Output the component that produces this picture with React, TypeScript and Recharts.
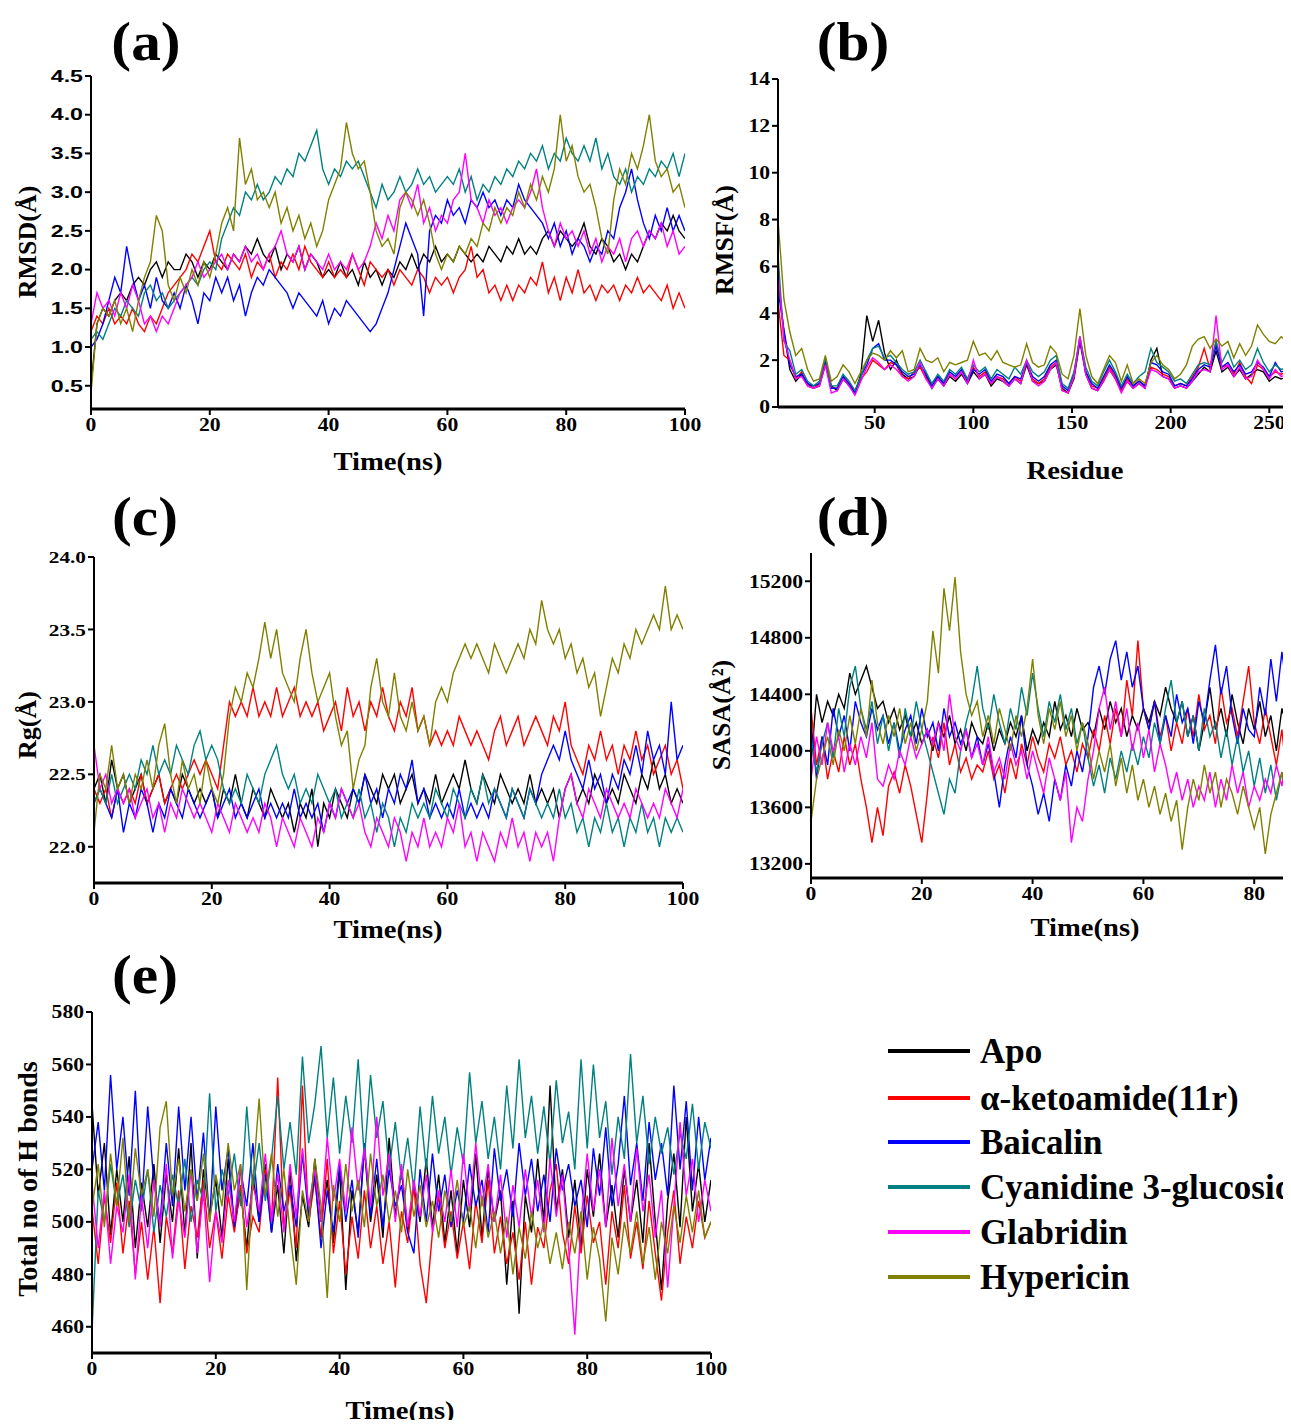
import { LineChart, Line, XAxis, YAxis } from 'recharts';

// series order = draw order (olive ends up on top, like the original)
const SERIES = [
  { key: 'apo', name: 'Apo', color: '#000000' },
  { key: 'keto', name: 'α-ketoamide(11r)', color: '#FF0000' },
  { key: 'baic', name: 'Baicalin', color: '#0000FF' },
  { key: 'cyan', name: 'Cyanidine 3-glucoside', color: '#008080' },
  { key: 'glab', name: 'Glabridin', color: '#FF00FF' },
  { key: 'hyp', name: 'Hypericin', color: '#808000' },
];

const TIME = Array.from({ length: 101 }, (_, i) => i);
const TIME_SASA = Array.from({ length: 88 }, (_, i) => i);

const RESIDUE = [
  1, 4, 7, 10, 13, 16, 19, 22, 25, 28, 31, 34, 37, 40, 43, 46, 49, 52, 55, 58,
  61, 64, 67, 70, 73, 76, 79, 82, 85, 88, 91, 94, 97, 100, 103, 106, 109, 112, 115, 118,
  121, 124, 127, 130, 133, 136, 139, 142, 145, 148, 151, 154, 157, 160, 163, 166, 169, 172, 175, 178,
  181, 184, 187, 190, 193, 196, 199, 202, 205, 208, 211, 214, 217, 220, 223, 226, 229, 232, 235, 238,
  241, 244, 247, 250, 253, 256, 259, 262,
];

// (a) RMSD, Å
const RMSD_APO = [
  0.5, 1.3, 1.5, 1.4, 1.6, 1.7, 1.6, 1.8, 1.9, 1.8, 2.0, 2.1, 1.9, 2.1, 2.0, 2.0, 2.2, 2.1, 1.9, 2.1,
  2.0, 2.2, 2.1, 2.0, 2.2, 2.1, 2.3, 2.2, 2.4, 2.2, 2.1, 2.3, 2.0, 2.2, 2.1, 2.3, 2.0, 2.2, 2.1, 1.9,
  2.0, 1.9, 2.1, 1.9, 2.0, 1.8, 2.1, 1.9, 2.0, 1.8, 2.0, 1.9, 2.1, 2.0, 2.2, 2.0, 2.2, 2.1, 2.3, 2.1,
  2.2, 2.1, 2.3, 2.2, 2.1, 2.2, 2.1, 2.3, 2.2, 2.1, 2.3, 2.2, 2.4, 2.2, 2.3, 2.2, 2.4, 2.5, 2.3, 2.5,
  2.4, 2.3, 2.4, 2.6, 2.3, 2.2, 2.4, 2.3, 2.1, 2.2, 2.0, 2.2, 2.1, 2.3, 2.5, 2.4, 2.6, 2.5, 2.7, 2.5,
  2.4,
];
const RMSD_KETO = [
  1.2, 1.4, 1.3, 1.5, 1.3, 1.4, 1.3, 1.5, 1.3, 1.2, 1.4, 1.3, 1.5, 1.7, 1.8, 1.9, 2.0, 2.2, 2.1, 2.3,
  2.5, 2.1, 2.0, 2.2, 2.1, 2.0, 2.2, 1.9, 2.1, 2.0, 2.2, 1.9, 2.1, 2.0, 2.2, 2.0, 2.3, 2.1, 2.0, 1.9,
  2.1, 1.9, 2.0, 1.9, 2.2, 2.0, 1.8, 2.1, 2.0, 1.9, 2.0, 1.8, 2.0, 1.9, 1.8, 2.0, 1.9, 1.7, 1.9, 1.8,
  1.9, 1.7, 1.9, 2.0, 2.3, 1.9, 2.0, 1.7, 1.8, 1.6, 1.8, 1.6, 1.8, 1.7, 1.9, 1.8, 2.1, 1.7, 1.9, 1.6,
  1.9, 1.7, 2.0, 1.7, 1.8, 1.6, 1.8, 1.7, 1.8, 1.6, 1.8, 1.7, 1.9, 1.7, 1.8, 1.7, 1.6, 1.8, 1.5, 1.7,
  1.5,
];
const RMSD_BAIC = [
  1.0, 1.1, 1.3, 1.6, 1.9, 1.7, 2.3, 1.9, 1.6, 1.8, 1.5, 1.9, 1.6, 1.5, 1.7, 1.5, 1.8, 1.6, 1.3, 1.7,
  1.6, 1.9, 1.7, 1.9, 1.6, 1.8, 1.4, 1.7, 1.9, 1.8, 2.0, 1.9, 1.8, 1.7, 1.5, 1.7, 1.6, 1.5, 1.4, 1.6,
  1.3, 1.5, 1.4, 1.6, 1.5, 1.4, 1.3, 1.2, 1.3, 1.5, 1.7, 2.0, 2.3, 2.6, 2.4, 2.2, 1.4, 2.5, 2.7, 2.6,
  2.9, 2.7, 2.8, 2.6, 2.9, 2.8, 3.0, 2.8, 2.9, 2.7, 2.9, 2.8, 3.1, 2.9, 2.8, 2.7, 2.6, 2.4, 2.6, 2.3,
  2.5, 2.2, 2.4, 2.3, 2.1, 2.3, 2.2, 2.5, 2.4, 2.8, 3.0, 3.3, 2.9, 2.6, 2.4, 2.7, 2.5, 2.8, 2.5, 2.7,
  2.5,
];
const RMSD_CYAN = [
  1.1, 1.2, 1.1, 1.3, 1.5, 1.4, 1.6, 1.5, 1.4, 1.7, 1.8, 1.6, 1.7, 1.5, 1.6, 1.7, 1.8, 1.9, 1.8, 2.0,
  2.1, 2.0, 2.4, 2.6, 2.8, 2.7, 3.0, 2.9, 3.1, 2.9, 3.0, 3.2, 3.1, 3.3, 3.2, 3.5, 3.4, 3.6, 3.8, 3.3,
  3.1, 3.3, 3.2, 3.4, 3.3, 3.4, 3.2, 3.0, 2.8, 3.1, 2.9, 3.0, 3.2, 3.0, 3.1, 3.3, 3.1, 3.2, 3.0, 3.1,
  3.2, 3.1, 3.3, 3.0, 3.2, 2.9, 3.1, 3.0, 3.2, 3.1, 3.3, 3.2, 3.4, 3.3, 3.5, 3.4, 3.6, 3.3, 3.5, 3.4,
  3.7, 3.5, 3.4, 3.6, 3.4, 3.7, 3.3, 3.5, 3.2, 3.1, 3.3, 3.0, 3.2, 3.1, 3.3, 3.2, 3.4, 3.3, 3.5, 3.2,
  3.5,
];
const RMSD_GLAB = [
  1.3, 1.7, 1.5, 1.6, 1.4, 1.7, 1.5, 1.8, 1.6, 1.3, 1.4, 1.2, 1.4, 1.3, 1.5, 1.7, 1.8, 1.9, 2.1, 1.9,
  2.0, 2.1, 2.2, 2.0, 2.2, 2.1, 2.3, 2.1, 2.2, 2.0, 2.2, 2.3, 2.5, 2.2, 2.1, 2.3, 2.0, 2.2, 2.1, 2.0,
  2.2, 2.0, 2.1, 2.0, 2.2, 2.0, 2.1, 2.3, 2.6, 2.4, 2.7, 2.5, 2.9, 3.0, 2.8, 3.1, 2.6, 2.8, 2.5, 2.7,
  2.6, 2.9, 3.0, 3.5, 2.9, 2.8, 2.6, 2.9, 2.7, 2.8, 2.6, 2.8, 2.9, 2.8, 3.0, 3.3, 2.8, 2.5, 2.3, 2.6,
  2.4, 2.5, 2.3, 2.5, 2.2, 2.4, 2.1, 2.3, 2.2, 2.4, 2.1, 2.4, 2.5, 2.3, 2.5, 2.4, 2.6, 2.3, 2.5, 2.2,
  2.3,
];
const RMSD_HYP = [
  0.4, 1.3, 1.5, 1.4, 1.6, 1.3, 1.5, 1.2, 1.6, 1.9, 2.1, 2.7, 2.5, 1.8, 1.6, 1.9, 1.7, 2.0, 1.8, 2.1,
  1.9, 2.2, 2.6, 2.8, 2.5, 3.7, 3.1, 3.3, 2.9, 3.0, 2.8, 3.0, 2.6, 2.8, 2.5, 2.7, 2.4, 2.6, 2.3, 2.5,
  2.9, 3.1, 3.3, 3.9, 3.5, 3.3, 3.4, 3.0, 2.5, 2.3, 2.4, 2.2, 2.8, 3.0, 2.9, 2.7, 2.9, 2.6, 2.2, 2.0,
  2.2, 2.1, 2.3, 2.2, 2.4, 2.3, 2.6, 2.5, 2.8, 2.6, 2.8, 2.7, 3.0, 2.8, 3.1, 2.9, 3.2, 3.0, 3.3, 4.0,
  3.4, 3.6, 3.2, 3.0, 3.1, 2.8, 2.4, 2.2, 2.9, 3.3, 3.1, 3.5, 3.3, 3.6, 4.0, 3.4, 3.2, 3.3, 3.0, 3.1,
  2.8,
];

// (b) RMSF, Å
const RMSF_APO = [
  5.5, 3.2, 1.6, 1.1, 1.4, 1.0, 0.8, 0.9, 1.8, 0.9, 0.7, 1.2, 0.9, 0.6, 1.4, 3.9, 2.8, 3.7, 2.3, 1.6,
  2.0, 1.4, 1.2, 1.3, 1.8, 1.3, 0.8, 1.2, 0.9, 1.3, 1.1, 1.4, 1.0, 1.5, 1.2, 1.4, 0.9, 1.2, 1.1, 0.9,
  1.2, 1.0, 1.8, 1.1, 1.0, 1.1, 1.6, 1.8, 0.8, 0.6, 1.2, 2.8, 1.4, 0.8, 0.7, 1.1, 1.6, 1.2, 0.7, 1.1,
  0.8, 1.0, 0.8, 2.0, 2.5, 1.3, 1.2, 0.8, 0.9, 0.8, 1.1, 1.4, 1.7, 1.5, 2.4, 1.5, 1.7, 1.3, 1.6, 1.2,
  1.4, 1.6, 1.5, 1.1, 1.3, 1.2, 1.3, 1.1,
];
const RMSF_KETO = [
  4.5, 2.2, 2.0, 1.2, 1.5, 0.9, 0.8, 1.0, 1.9, 0.8, 0.8, 1.3, 1.0, 0.7, 1.2, 1.5, 2.0, 1.8, 1.6, 1.9,
  1.8, 1.3, 1.2, 1.5, 1.7, 1.2, 1.0, 1.3, 1.0, 1.4, 1.2, 1.5, 1.1, 1.7, 1.3, 1.5, 1.0, 1.3, 1.2, 1.0,
  1.3, 1.1, 1.9, 1.2, 1.0, 1.2, 1.7, 1.9, 0.7, 0.6, 1.3, 3.0, 1.5, 0.9, 0.8, 1.2, 1.7, 1.3, 0.7, 1.2,
  0.9, 1.1, 0.9, 1.7, 1.6, 1.4, 1.3, 0.9, 1.0, 0.9, 1.3, 1.7, 2.5, 1.6, 2.8, 1.7, 1.8, 1.4, 1.9, 1.3,
  1.0, 1.8, 1.6, 1.3, 1.5, 1.4, 1.5, 1.3,
];
const RMSF_BAIC = [
  5.0, 3.3, 1.8, 1.3, 1.4, 1.0, 0.9, 1.0, 2.0, 0.8, 0.8, 1.3, 1.0, 0.6, 1.3, 1.8, 2.5, 2.7, 2.0, 2.0,
  1.8, 1.5, 1.3, 1.4, 1.8, 1.4, 0.9, 1.3, 1.0, 1.5, 1.3, 1.6, 1.1, 1.6, 1.4, 1.6, 1.1, 1.4, 1.3, 1.0,
  1.3, 1.2, 1.9, 1.3, 1.1, 1.3, 1.8, 2.0, 0.9, 0.7, 1.4, 2.9, 1.5, 1.0, 0.8, 1.3, 1.8, 1.4, 0.8, 1.3,
  0.9, 1.1, 0.9, 1.9, 1.8, 1.5, 1.4, 0.9, 1.0, 0.9, 1.2, 1.6, 1.8, 1.7, 2.6, 1.7, 1.9, 1.5, 1.8, 1.4,
  1.5, 1.9, 1.7, 1.3, 1.9, 1.5, 1.6, 1.4,
];
const RMSF_CYAN = [
  6.5, 2.8, 2.4, 1.4, 1.6, 1.1, 0.9, 1.1, 2.1, 0.9, 0.9, 1.4, 1.1, 0.7, 1.3, 2.0, 2.5, 2.6, 2.1, 2.2,
  1.9, 1.6, 1.4, 1.5, 2.0, 1.5, 1.0, 1.4, 1.1, 1.6, 1.4, 1.7, 1.2, 1.8, 1.5, 1.7, 1.2, 1.6, 1.4, 1.2,
  1.7, 1.4, 2.0, 1.5, 1.3, 1.5, 2.0, 2.2, 1.0, 0.8, 1.5, 3.0, 1.7, 1.1, 0.9, 1.5, 2.0, 1.5, 0.9, 1.4,
  1.0, 1.3, 1.5, 2.5, 1.9, 1.7, 1.5, 1.1, 1.2, 1.0, 1.4, 1.8, 1.9, 1.8, 2.8, 1.9, 2.4, 1.7, 2.0, 1.6,
  1.8, 2.5, 1.9, 1.5, 1.8, 1.6, 1.7, 1.5,
];
const RMSF_GLAB = [
  5.8, 2.9, 2.0, 1.2, 1.3, 0.9, 0.8, 0.9, 1.8, 0.6, 0.7, 1.2, 0.9, 0.5, 1.1, 1.7, 2.1, 1.9, 1.6, 1.8,
  1.6, 1.3, 1.1, 1.3, 1.9, 1.2, 0.8, 1.2, 0.9, 1.4, 1.2, 1.5, 1.0, 2.0, 1.2, 1.4, 1.0, 1.3, 1.1, 0.9,
  1.2, 1.0, 2.0, 1.1, 0.9, 1.1, 1.6, 1.9, 0.7, 0.6, 1.3, 3.0, 1.4, 0.8, 0.7, 1.1, 1.6, 1.2, 0.6, 1.1,
  0.8, 1.0, 0.8, 1.6, 1.5, 1.3, 1.2, 0.8, 0.9, 0.8, 1.1, 1.5, 1.6, 1.5, 3.9, 1.6, 1.8, 1.3, 1.7, 1.2,
  1.3, 2.0, 1.6, 1.2, 1.6, 1.3, 1.4, 1.3,
];
const RMSF_HYP = [
  8.0, 4.6, 3.2, 2.2, 2.5, 1.6, 1.1, 1.2, 2.2, 1.1, 1.3, 1.8, 1.5, 1.0, 1.5, 2.0, 2.3, 2.2, 2.0, 2.4,
  2.1, 2.4, 1.5, 1.6, 2.5, 2.0, 1.9, 2.1, 1.5, 1.9, 1.8, 1.9, 2.0, 2.8, 2.2, 2.3, 2.0, 2.4, 1.9, 1.8,
  1.7, 1.8, 2.7, 1.9, 1.7, 1.8, 2.6, 2.3, 1.4, 1.2, 2.2, 4.2, 2.2, 1.3, 1.0, 1.6, 2.2, 1.9, 1.1, 1.8,
  1.0, 1.2, 1.0, 1.9, 2.2, 1.8, 1.6, 1.2, 1.4, 1.8, 2.6, 2.9, 3.0, 2.5, 2.9, 2.6, 2.8, 2.1, 2.7, 2.2,
  2.6, 3.5, 3.1, 2.8, 2.7, 3.0, 2.8, 2.2,
];

// (c) Rg, Å
const RG_APO = [
  22.4, 22.5, 22.3, 22.6, 22.4, 22.5, 22.3, 22.4, 22.5, 22.3, 22.4, 22.5, 22.3, 22.4, 22.3, 22.5, 22.4, 22.3, 22.4, 22.3,
  22.4, 22.2, 22.4, 22.3, 22.5, 22.3, 22.2, 22.4, 22.3, 22.2, 22.4, 22.3, 22.2, 22.3, 22.1, 22.3, 22.2, 22.4, 22.0, 22.3,
  22.2, 22.4, 22.3, 22.2, 22.4, 22.3, 22.5, 22.4, 22.3, 22.5, 22.4, 22.5, 22.3, 22.4, 22.5, 22.3, 22.4, 22.3, 22.5, 22.3,
  22.4, 22.5, 22.4, 22.6, 22.4, 22.3, 22.5, 22.4, 22.3, 22.5, 22.4, 22.3, 22.4, 22.3, 22.5, 22.3, 22.4, 22.3, 22.4, 22.2,
  22.4, 22.5, 22.3, 22.4, 22.3, 22.5, 22.4, 22.3, 22.4, 22.3, 22.5, 22.4, 22.3, 22.5, 22.4, 22.6, 22.4, 22.5, 22.3, 22.4,
  22.3,
];
const RG_KETO = [
  22.4, 22.3, 22.4, 22.2, 22.4, 22.3, 22.4, 22.3, 22.5, 22.3, 22.4, 22.5, 22.3, 22.4, 22.5, 22.4, 22.5, 22.6, 22.5, 22.6,
  22.5, 22.4, 22.7, 23.0, 22.9, 23.0, 22.9, 23.1, 22.9, 23.0, 22.9, 23.1, 22.9, 23.0, 23.1, 22.9, 23.0, 22.9, 23.0, 22.8,
  22.9, 23.0, 22.8, 23.1, 22.9, 23.0, 22.8, 23.0, 22.9, 23.1, 22.9, 22.8, 23.0, 22.9, 23.1, 22.8, 22.9, 22.7, 22.8, 22.7,
  22.8, 22.7, 22.9, 22.8, 22.7, 22.8, 22.7, 22.6, 22.8, 22.9, 22.7, 22.8, 22.9, 22.7, 22.8, 22.9, 22.8, 22.7, 22.9, 22.8,
  23.0, 22.7, 22.6, 22.5, 22.7, 22.6, 22.8, 22.6, 22.7, 22.5, 22.7, 22.6, 22.8, 22.6, 22.7, 22.5, 22.6, 22.7, 22.5, 22.6,
  22.4,
];
const RG_BAIC = [
  22.3, 22.4, 22.3, 22.2, 22.4, 22.1, 22.3, 22.2, 22.4, 22.3, 22.1, 22.3, 22.2, 22.4, 22.3, 22.2, 22.4, 22.3, 22.2, 22.3,
  22.4, 22.2, 22.3, 22.4, 22.2, 22.3, 22.2, 22.3, 22.4, 22.2, 22.3, 22.2, 22.3, 22.2, 22.4, 22.2, 22.3, 22.2, 22.3, 22.1,
  22.3, 22.2, 22.4, 22.3, 22.4, 22.3, 22.5, 22.3, 22.4, 22.2, 22.4, 22.3, 22.5, 22.4, 22.6, 22.3, 22.4, 22.2, 22.3, 22.2,
  22.3, 22.2, 22.4, 22.2, 22.3, 22.2, 22.3, 22.2, 22.4, 22.3, 22.2, 22.4, 22.3, 22.2, 22.4, 22.3, 22.5, 22.6, 22.7, 22.6,
  22.8, 22.6, 22.5, 22.4, 22.6, 22.4, 22.5, 22.3, 22.5, 22.4, 22.6, 22.5, 22.7, 22.5, 22.8, 22.6, 22.7, 22.5, 23.0, 22.6,
  22.7,
];
const RG_CYAN = [
  22.3, 22.4, 22.3, 22.5, 22.3, 22.4, 22.5, 22.4, 22.6, 22.5, 22.7, 22.5, 22.6, 22.5, 22.7, 22.6, 22.5, 22.7, 22.8, 22.6,
  22.7, 22.6, 22.4, 22.3, 22.4, 22.3, 22.5, 22.4, 22.3, 22.5, 22.6, 22.7, 22.5, 22.4, 22.5, 22.3, 22.4, 22.3, 22.5, 22.4,
  22.3, 22.4, 22.2, 22.3, 22.2, 22.4, 22.2, 22.3, 22.1, 22.3, 22.2, 22.0, 22.2, 22.1, 22.3, 22.2, 22.3, 22.2, 22.4, 22.3,
  22.2, 22.4, 22.3, 22.2, 22.4, 22.3, 22.5, 22.3, 22.4, 22.3, 22.2, 22.4, 22.3, 22.2, 22.4, 22.3, 22.2, 22.3, 22.2, 22.4,
  22.2, 22.3, 22.1, 22.2, 22.0, 22.2, 22.1, 22.3, 22.1, 22.2, 22.0, 22.2, 22.1, 22.3, 22.1, 22.2, 22.0, 22.2, 22.1, 22.2,
  22.1,
];
const RG_GLAB = [
  22.7, 22.4, 22.5, 22.3, 22.4, 22.3, 22.4, 22.2, 22.3, 22.4, 22.2, 22.3, 22.1, 22.3, 22.2, 22.4, 22.3, 22.2, 22.3, 22.2,
  22.1, 22.3, 22.2, 22.1, 22.3, 22.2, 22.1, 22.2, 22.1, 22.3, 22.2, 22.0, 22.2, 22.1, 22.0, 22.2, 22.1, 22.0, 22.2, 22.1,
  22.3, 22.2, 22.4, 22.3, 22.2, 22.3, 22.1, 22.0, 22.2, 22.1, 22.0, 22.2, 22.1, 21.9, 22.1, 22.0, 22.2, 22.0, 22.1, 22.0,
  22.2, 22.1, 22.3, 22.0, 22.1, 21.9, 22.1, 22.0, 21.9, 22.1, 22.0, 22.2, 22.0, 22.1, 21.9, 22.1, 22.0, 22.1, 21.9, 22.2,
  22.4, 22.5, 22.3, 22.2, 22.4, 22.3, 22.2, 22.4, 22.3, 22.2, 22.3, 22.2, 22.4, 22.3, 22.2, 22.3, 22.2, 22.4, 22.3, 22.2,
  22.4,
];
const RG_HYP = [
  22.1, 22.5, 22.4, 22.7, 22.4, 22.5, 22.3, 22.5, 22.4, 22.6, 22.4, 22.7, 22.85, 22.5, 22.3, 22.6, 22.4, 22.5, 22.3, 22.6,
  22.4, 22.3, 22.5, 22.9, 23.1, 23.0, 23.2, 23.1, 23.3, 23.55, 23.3, 23.5, 23.2, 23.1, 23.0, 23.3, 23.5, 23.2, 23.0, 23.1,
  23.2, 22.9, 22.7, 22.8, 22.4, 22.6, 22.7, 23.1, 23.3, 23.0, 22.9, 23.2, 22.9, 22.8, 23.0, 22.8, 22.9, 22.7, 23.0, 23.1,
  23.0, 23.2, 23.3, 23.4, 23.3, 23.4, 23.3, 23.2, 23.4, 23.3, 23.2, 23.3, 23.4, 23.3, 23.5, 23.4, 23.7, 23.5, 23.4, 23.5,
  23.3, 23.4, 23.2, 23.3, 23.1, 23.2, 22.9, 23.1, 23.3, 23.2, 23.4, 23.3, 23.5, 23.4, 23.5, 23.6, 23.5, 23.8, 23.5, 23.6,
  23.5,
];

// (d) SASA, Å² (visible part, 0-87 ns)
const SASA_APO = [
  13900, 14400, 14200, 14350, 14250, 14400, 14300, 14550, 14400, 14500, 14600, 14450, 14300, 14350, 14200, 14300, 14150, 14250, 14100, 14200,
  14050, 14150, 14000, 14200, 14100, 14250, 14050, 14150, 14000, 14200, 14100, 14050, 14200, 14000, 14150, 14050, 14200, 14100, 14250, 14000,
  14150, 14050, 14200, 14100, 14350, 14150, 14250, 14100, 14300, 14150, 14200, 14100, 14300, 14150, 14350, 14200, 14300, 14100, 14250, 14150,
  14300, 14200, 14350, 14250, 14450, 14300, 14200, 14350, 14100, 14250, 14000, 14200, 14450, 14150, 14300, 14100, 14400, 14200, 14050, 14300,
  14150, 14350, 14100, 14250, 14000, 14300, 14150, 14250,
];
const SASA_KETO = [
  14300, 13900, 14100, 13800, 14000, 13850, 14100, 13900, 14050, 13800, 13600, 13350, 13600, 13400, 13750, 13850, 13700, 13900, 13750, 13550,
  13350, 13700, 14100, 13950, 14200, 13900, 14050, 13850, 13950, 13800, 13900, 13850, 14000, 13800, 13900, 13700, 13950, 13800, 14050, 13900,
  14100, 13950, 13850, 14050, 13950, 14100, 13900, 14000, 13850, 14050, 13950, 14150, 14000, 14250, 14050, 14300, 14100, 14500, 14250, 14780,
  14300, 14150, 14350, 14100, 14250, 14000, 14200, 14050, 14300, 14100, 14400, 14150, 14250, 14050, 14450, 14200, 14300, 14100, 14350, 14600,
  14200, 14050, 14300, 14100, 13900, 14150, 13750, 14000,
];
const SASA_BAIC = [
  14200, 13800, 14100, 13900, 14300, 14100, 14250, 14000, 14350, 14200, 14100, 14300, 14150, 14250, 14050, 14200, 14000, 14150, 14250, 14050,
  14300, 14100, 14200, 14000, 14300, 14100, 14200, 14050, 14150, 13950, 14100, 13900, 14050, 13850, 13600, 13900, 14100, 13950, 14250, 13900,
  13750, 13550, 13700, 13500, 13800, 13650, 13900, 13750, 14000, 13850, 14100, 14450, 14600, 14400, 14650, 14780, 14500, 14700, 14450, 14600,
  14300, 14150, 14350, 14050, 14250, 14100, 14400, 14200, 14300, 14050, 14350, 14200, 14500, 14750, 14400, 14600, 14250, 14050, 14300, 14150,
  14100, 14450, 14250, 14650, 14350, 14700, 14400, 14650,
];
const SASA_CYAN = [
  14100, 13850, 14050, 14200, 13950, 14300, 14100, 14450, 14600, 14300, 14150, 14350, 14050, 14250, 14000, 14200, 13950, 14300, 14100, 14350,
  14150, 14000, 13850, 13700, 13550, 13800, 13700, 14000, 14200, 14350, 14600, 14300, 14150, 14400, 14200, 14050, 14300, 14150, 14450, 14250,
  14550, 14300, 14100, 14350, 14200, 14400, 14150, 14300, 14050, 14200, 13950, 13750, 13900, 13700, 13950, 13800, 14000, 13850, 14050, 13900,
  14100, 13950, 14200, 14050, 14300, 14500, 14200, 14350, 14100, 14250, 14000, 14300, 14100, 14200, 13950, 14150, 13900, 14100, 13850, 14000,
  13750, 13950, 13700, 13900, 13650, 13850, 13600, 13800,
];
const SASA_GLAB = [
  13800, 14100, 13900, 14200, 14000, 14100, 13850, 14050, 13900, 14100, 13950, 14200, 13800, 13750, 13900, 13800, 14000, 13900, 14100, 13950,
  14050, 14150, 14050, 14200, 14000, 14400, 14100, 14000, 14150, 13950, 14050, 13900, 14100, 13850, 13950, 13800, 14050, 13900, 14000, 13800,
  14000, 13850, 13700, 13950, 13800, 13650, 13850, 13350, 13600, 13500, 13800, 14000, 14300, 14450, 14150, 14350, 14100, 14300, 14000, 14200,
  13950, 14150, 13850, 14050, 13900, 13700, 13850, 13650, 13800, 13600, 13750, 13650, 13850, 13600, 13800, 13650, 13900, 13700, 13850, 13600,
  13750, 13650, 13800, 13700, 13900, 13750, 14050, 13900,
];
const SASA_HYP = [
  13500, 13800, 13950, 14100, 13900, 14150, 14000, 14250, 14050, 14300, 14100, 14500, 14200, 14050, 14250, 14100, 14300, 14050, 14200, 14000,
  14150, 14350, 14850, 14550, 15150, 14850, 15230, 14700, 14400, 14250, 14350, 14100, 14250, 14050, 14300, 14150, 14000, 14250, 14100, 14300,
  14650, 14250, 14050, 14300, 14150, 14350, 14100, 14250, 14000, 14200, 14050, 13800, 14000, 13850, 14050, 13750, 13950, 13700, 13900, 13650,
  13800, 13600, 13750, 13550, 13700, 13500, 13650, 13300, 13600, 13800, 13650, 13900, 13700, 13850, 13600, 13800, 13700, 13550, 13750, 13600,
  13450, 13600, 13270, 13550, 13700, 13850, 13650, 13800,
];

// (e) total number of H bonds
const HB_APO = [
  545, 510, 530, 495, 520, 500, 525, 490, 515, 498, 522, 492, 518, 500, 528, 495, 530, 486, 520, 502,
  516, 494, 524, 498, 512, 490, 518, 500, 522, 496, 514, 488, 520, 485, 510, 498, 524, 500, 516, 492,
  520, 474, 512, 496, 528, 500, 518, 494, 532, 502, 520, 496, 514, 500, 524, 498, 518, 492, 512, 488,
  516, 498, 526, 494, 520, 500, 512, 476, 508, 465, 510, 496, 524, 500, 552, 504, 520, 494, 516, 490,
  520, 502, 526, 498, 514, 494, 520, 500, 516, 492, 530, 500, 474, 508, 526, 498, 540, 504, 522, 500,
  516,
];
const HB_KETO = [
  505, 484, 510, 492, 515, 488, 508, 480, 500, 478, 498, 469, 502, 488, 512, 482, 506, 494, 516, 490,
  504, 486, 510, 496, 514, 488, 502, 496, 520, 500, 555, 498, 512, 490, 552, 500, 516, 494, 524, 488,
  508, 480, 502, 486, 512, 490, 506, 484, 500, 475, 504, 492, 514, 484, 469, 496, 510, 490, 504, 486,
  500, 482, 508, 492, 516, 488, 502, 484, 496, 478, 500, 476, 498, 490, 512, 522, 496, 484, 506, 488,
  510, 492, 500, 476, 504, 490, 514, 486, 500, 482, 508, 488, 470, 496, 512, 484, 502, 490, 508, 494,
  500,
];
const HB_BAIC = [
  520, 538, 512, 556, 520, 540, 510, 550, 505, 544, 515, 500, 530, 506, 544, 512, 540, 508, 534, 500,
  544, 512, 528, 498, 520, 506, 530, 500, 518, 496, 522, 504, 514, 498, 526, 502, 518, 490, 512, 496,
  522, 500, 516, 494, 530, 502, 524, 498, 520, 506, 514, 496, 488, 520, 500, 526, 504, 518, 498, 512,
  500, 522, 506, 516, 496, 528, 508, 520, 502, 530, 510, 524, 504, 518, 500, 528, 512, 522, 506, 516,
  498, 528, 510, 536, 506, 522, 548, 514, 530, 508, 538, 516, 530, 510, 552, 520, 546, 512, 540, 516,
  532,
];
const HB_CYAN = [
  458, 512, 500, 522, 506, 518, 498, 516, 504, 520, 496, 514, 502, 518, 506, 524, 500, 516, 508, 549,
  504, 520, 510, 526, 506, 544, 512, 530, 508, 524, 548, 520, 538, 518, 563, 530, 545, 567, 532, 555,
  526, 548, 530, 562, 524, 556, 532, 546, 520, 538, 516, 532, 512, 544, 520, 548, 526, 540, 518, 536,
  522, 557, 530, 546, 524, 540, 520, 552, 528, 562, 532, 548, 526, 544, 522, 554, 530, 542, 520, 562,
  528, 560, 532, 546, 518, 540, 524, 564, 530, 548, 522, 540, 526, 536, 518, 534, 524, 545, 520, 538,
  528,
];
const HB_GLAB = [
  515, 490, 512, 484, 506, 496, 518, 478, 510, 490, 516, 498, 522, 486, 508, 494, 520, 488, 512, 477,
  504, 492, 516, 500, 522, 498, 514, 504, 526, 500, 518, 496, 522, 502, 528, 506, 520, 500, 532, 508,
  524, 504, 536, 512, 528, 506, 540, 510, 526, 500, 522, 498, 516, 502, 518, 496, 512, 500, 520, 498,
  526, 504, 530, 506, 522, 500, 518, 494, 514, 498, 520, 502, 516, 496, 524, 502, 518, 490, 457, 500,
  526, 504, 520, 498, 532, 506, 522, 500, 528, 504, 518, 494, 512, 475, 506, 538, 510, 524, 500, 516,
  504,
];
const HB_HYP = [
  505, 522, 498, 526, 506, 532, 500, 528, 510, 520, 502, 536, 546, 510, 524, 504, 520, 508, 526, 500,
  518, 506, 530, 512, 522, 474, 516, 547, 510, 526, 502, 520, 496, 476, 512, 500, 524, 506, 471, 514,
  500, 522, 504, 516, 498, 526, 506, 518, 500, 512, 496, 520, 502, 514, 498, 508, 494, 512, 500, 516,
  498, 506, 490, 510, 494, 504, 488, 502, 480, 498, 486, 504, 490, 500, 484, 496, 482, 500, 488, 504,
  478, 498, 486, 462, 494, 480, 500, 488, 504, 484, 498, 478, 500, 488, 506, 492, 510, 496, 512, 494,
  500,
];

const toRows = (xs: number[], cols: number[][]) =>
  xs.map((x, i) => {
    const row: Record<string, number> = { x };
    SERIES.forEach((s, j) => {
      row[s.key] = cols[j][i];
    });
    return row;
  });

const rmsdData = toRows(TIME, [RMSD_APO, RMSD_KETO, RMSD_BAIC, RMSD_CYAN, RMSD_GLAB, RMSD_HYP]);
const rmsfData = toRows(RESIDUE, [RMSF_APO, RMSF_KETO, RMSF_BAIC, RMSF_CYAN, RMSF_GLAB, RMSF_HYP]);
const rgData = toRows(TIME, [RG_APO, RG_KETO, RG_BAIC, RG_CYAN, RG_GLAB, RG_HYP]);
const sasaData = toRows(TIME_SASA, [SASA_APO, SASA_KETO, SASA_BAIC, SASA_CYAN, SASA_GLAB, SASA_HYP]);
const hbData = toRows(TIME, [HB_APO, HB_KETO, HB_BAIC, HB_CYAN, HB_GLAB, HB_HYP]);

const SERIF = '"Liberation Serif", "Times New Roman", serif';
const SANS = '"Liberation Sans", Arial, sans-serif';

// the source figure is stretched sideways, so tick text is drawn wider than tall
type TickStyle = { family: string; size: number; stretch: number; fmt?: (v: number) => string };

const makeTick = (axis: 'x' | 'y', st: TickStyle) => (props: any) => {
  const { x, y, payload } = props;
  const label = st.fmt ? st.fmt(payload.value) : String(payload.value);
  return (
    <g transform={`translate(${x},${y})`}>
      <text
        transform={`scale(${st.stretch},1)`}
        textAnchor={axis === 'x' ? 'middle' : 'end'}
        dy={axis === 'x' ? '0.8em' : '0.36em'}
        fontFamily={st.family}
        fontWeight={700}
        fontSize={st.size}
        fill="#000"
      >
        {label}
      </text>
    </g>
  );
};

const SERIF_TICK: TickStyle = { family: SERIF, size: 18, stretch: 1.2 };

interface PanelProps {
  left: number; // plot area, page px
  top: number;
  w: number;
  h: number;
  data: Record<string, number>[];
  xDomain: [number, number];
  xTicks: number[];
  yDomain: [number, number];
  yTicks: number[];
  yTick?: TickStyle;
}

const ML = 80;
const MT = 10;
const MR = 35;
const MB = 40;

const Panel = ({ left, top, w, h, data, xDomain, xTicks, yDomain, yTicks, yTick = SERIF_TICK }: PanelProps) => (
  <div style={{ position: 'absolute', left: left - ML, top: top - MT }}>
    <LineChart width={w + ML + MR} height={h + MT + MB} data={data} margin={{ top: MT, right: MR, bottom: 0, left: 0 }}>
      <XAxis
        dataKey="x"
        type="number"
        domain={xDomain}
        ticks={xTicks}
        interval={0}
        allowDataOverflow
        height={MB}
        tickSize={6}
        axisLine={{ stroke: '#000', strokeWidth: 3 }}
        tickLine={{ stroke: '#000', strokeWidth: 2 }}
        tick={makeTick('x', SERIF_TICK)}
      />
      <YAxis
        type="number"
        domain={yDomain}
        ticks={yTicks}
        interval={0}
        allowDataOverflow
        width={ML}
        tickSize={6}
        axisLine={{ stroke: '#000', strokeWidth: 2 }}
        tickLine={{ stroke: '#000', strokeWidth: 2 }}
        tick={makeTick('y', yTick)}
      />
      {SERIES.map((s) => (
        <Line
          key={s.key}
          type="linear"
          dataKey={s.key}
          stroke={s.color}
          strokeWidth={1.4}
          dot={false}
          activeDot={false}
          isAnimationActive={false}
        />
      ))}
    </LineChart>
  </div>
);

const Label = ({
  x,
  y,
  text,
  size = 26,
  rotate = false,
  stretch = 1.1,
}: {
  x: number;
  y: number;
  text: string;
  size?: number;
  rotate?: boolean;
  stretch?: number;
}) => (
  <div
    style={{
      position: 'absolute',
      left: x,
      top: y,
      transform: `translate(-50%, -50%)${rotate ? ' rotate(-90deg)' : ` scale(${stretch},1)`}`,
      whiteSpace: 'nowrap',
      fontFamily: SERIF,
      fontWeight: 700,
      fontSize: size,
      color: '#000',
      lineHeight: 1,
    }}
  >
    {text}
  </div>
);

const fmt1 = (v: number) => v.toFixed(1);

const App = () => (
  <div style={{ position: 'relative', width: 1291, height: 1428, margin: -8, overflow: 'hidden', background: '#fff' }}>
    {/* (a) RMSD */}
    <Panel
      left={91}
      top={76}
      w={594}
      h={333}
      data={rmsdData}
      xDomain={[0, 100]}
      xTicks={[0, 20, 40, 60, 80, 100]}
      yDomain={[0.2, 4.5]}
      yTicks={[0.5, 1.0, 1.5, 2.0, 2.5, 3.0, 3.5, 4.0, 4.5]}
      yTick={{ family: SANS, size: 16, stretch: 1.45, fmt: fmt1 }}
    />
    <Label x={146} y={42} text="(a)" size={54} />
    <Label x={388} y={462} text="Time(ns)" />
    <Label x={28} y={242} text="RMSD(Å)" rotate />

    {/* (b) RMSF */}
    <Panel
      left={778}
      top={79}
      w={515}
      h={328}
      data={rmsfData}
      xDomain={[1, 262]}
      xTicks={[50, 100, 150, 200, 250]}
      yDomain={[0, 14]}
      yTicks={[0, 2, 4, 6, 8, 10, 12, 14]}
    />
    <Label x={853} y={42} text="(b)" size={54} />
    <Label x={1075} y={471} text="Residue" />
    <Label x={725} y={240} text="RMSF(Å)" rotate />

    {/* (c) Rg */}
    <Panel
      left={94}
      top={557}
      w={589}
      h={326}
      data={rgData}
      xDomain={[0, 100]}
      xTicks={[0, 20, 40, 60, 80, 100]}
      yDomain={[21.75, 24.0]}
      yTicks={[22.0, 22.5, 23.0, 23.5, 24.0]}
      yTick={{ family: SERIF, size: 17, stretch: 1.25, fmt: fmt1 }}
    />
    <Label x={145} y={517} text="(c)" size={54} />
    <Label x={388} y={930} text="Time(ns)" />
    <Label x={28} y={725} text="Rg(Å)" rotate />

    {/* (d) SASA */}
    <Panel
      left={811}
      top={553}
      w={482}
      h={325}
      data={sasaData}
      xDomain={[0, 87]}
      xTicks={[0, 20, 40, 60, 80]}
      yDomain={[13100, 15400]}
      yTicks={[13200, 13600, 14000, 14400, 14800, 15200]}
    />
    <Label x={853} y={517} text="(d)" size={54} />
    <Label x={1085} y={928} text="Time(ns)" />
    <Label x={722} y={715} text="SASA(Å²)" rotate />

    {/* (e) H bonds */}
    <Panel
      left={92}
      top={1012}
      w={619}
      h={341}
      data={hbData}
      xDomain={[0, 100]}
      xTicks={[0, 20, 40, 60, 80, 100]}
      yDomain={[450, 580]}
      yTicks={[460, 480, 500, 520, 540, 560, 580]}
    />
    <Label x={145} y={975} text="(e)" size={54} />
    <Label x={400} y={1411} text="Time(ns)" />
    <Label x={28} y={1179} text="Total no of H bonds" size={28} rotate />

    {/* legend */}
    {SERIES.map((s, i) => {
      const y = [1051, 1098, 1142, 1187, 1232, 1277][i];
      return (
        <div key={s.key}>
          <div style={{ position: 'absolute', left: 888, top: y - 2, width: 82, height: 4, background: s.color }} />
          <div
            style={{
              position: 'absolute',
              left: 980,
              top: y,
              transform: 'translateY(-50%)',
              whiteSpace: 'nowrap',
              fontFamily: SERIF,
              fontWeight: 700,
              fontSize: 35,
              lineHeight: 1,
              color: '#000',
            }}
          >
            {s.name}
          </div>
        </div>
      );
    })}
  </div>
);

export default App;
